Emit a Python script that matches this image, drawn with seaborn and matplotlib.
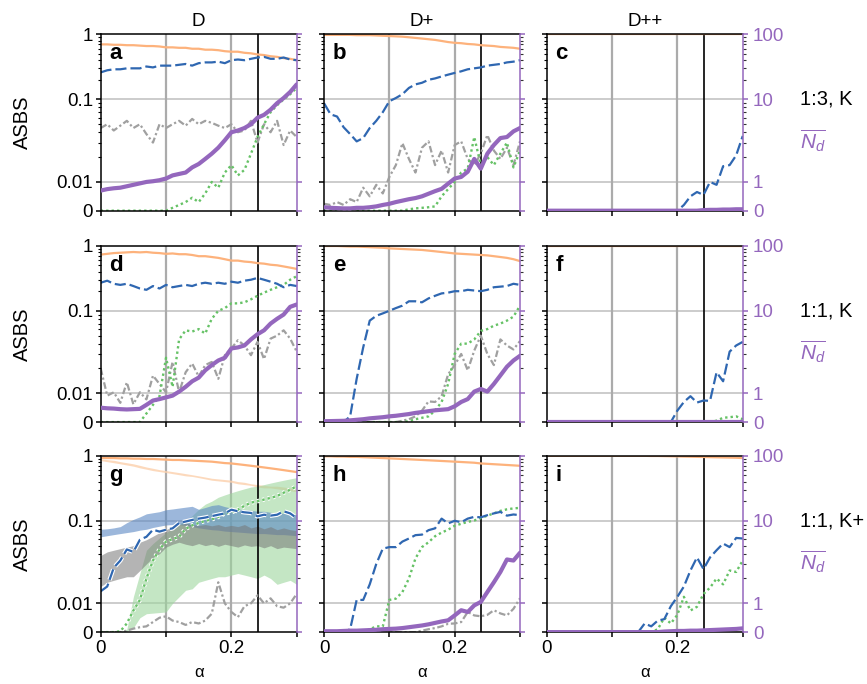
import numpy as np
import matplotlib
matplotlib.use("Agg")
import matplotlib.pyplot as plt
import matplotlib.patheffects as pe
import seaborn as sns

# =====================================================
# DATOS (paso 0.01 en alpha)
# =====================================================

alpha = np.round(np.arange(31) * 0.01, 2)

# --- fila 1: 1:3, K ---
orange_a = [0.70, 0.70, 0.69, 0.69, 0.68, 0.68, 0.67, 0.66, 0.66, 0.65, 0.63, 0.63, 0.62, 0.62, 0.60, 0.60,
            0.58, 0.58, 0.57, 0.55, 0.54, 0.54, 0.52, 0.51, 0.49, 0.48, 0.46, 0.45, 0.43, 0.42, 0.40]
blue_a = [0.26, 0.28, 0.29, 0.29, 0.30, 0.30, 0.30, 0.32, 0.31, 0.33, 0.33, 0.33, 0.34, 0.35, 0.33, 0.36,
          0.37, 0.37, 0.38, 0.36, 0.40, 0.41, 0.40, 0.42, 0.44, 0.45, 0.42, 0.42, 0.44, 0.41, 0.40]
gray_a = [0.045, 0.050, 0.042, 0.048, 0.055, 0.045, 0.050, 0.038, 0.030, 0.050, 0.045, 0.050, 0.055, 0.048,
          0.058, 0.050, 0.055, 0.052, 0.048, 0.045, 0.050, 0.040, 0.042, 0.055, 0.030, 0.050, 0.040, 0.055,
          0.028, 0.042, 0.035]
green_a = [0] * 11 + [0.001, 0.002, 0.003, 0.0045, 0.003, 0.006, 0.010, 0.008, 0.013, 0.016, 0.012, 0.014,
                      0.022, 0.035, 0.050, 0.070, 0.085, 0.100, 0.120, 0.150]
nd_a = [0.70, 0.75, 0.78, 0.80, 0.85, 0.90, 0.95, 1.00, 1.02, 1.05, 1.10, 1.20, 1.25, 1.30, 1.50, 1.65,
        1.90, 2.20, 2.60, 3.20, 4.00, 4.20, 4.50, 5.00, 6.00, 6.50, 7.50, 9.00, 10.5, 13.0, 17.0]

orange_b = [0.98, 0.98, 0.98, 0.98, 0.98, 0.97, 0.97, 0.97, 0.96, 0.95, 0.94, 0.93, 0.92, 0.90, 0.88, 0.86,
            0.84, 0.82, 0.79, 0.76, 0.74, 0.73, 0.71, 0.70, 0.68, 0.67, 0.66, 0.64, 0.63, 0.62, 0.60]
blue_b = [0.090, 0.066, 0.062, 0.046, 0.038, 0.031, 0.034, 0.045, 0.055, 0.070, 0.095, 0.105, 0.120, 0.150,
          0.170, 0.180, 0.200, 0.210, 0.225, 0.240, 0.255, 0.270, 0.290, 0.300, 0.310, 0.330, 0.340, 0.350,
          0.370, 0.380, 0.400]
gray_b = [0.0024, 0.002, 0.003, 0.002, 0.004, 0.003, 0.008, 0.005, 0.009, 0.006, 0.0115, 0.016, 0.0295,
          0.019, 0.013, 0.026, 0.031, 0.016, 0.024, 0.013, 0.028, 0.031, 0.019, 0.016, 0.022, 0.037, 0.024,
          0.019, 0.026, 0.016, 0.031]
green_b = [0] * 13 + [0.0005, 0.0008, 0.001, 0.0012, 0.0015, 0.005, 0.0075, 0.010, 0.013, 0.0145, 0.035,
                      0.016, 0.020, 0.016, 0.022, 0.030, 0.015, 0.024]
nd_b = [0.12, 0.10, 0.09, 0.08, 0.08, 0.10, 0.10, 0.12, 0.15, 0.20, 0.24, 0.30, 0.35, 0.40, 0.44, 0.50,
        0.59, 0.68, 0.76, 0.94, 1.10, 1.15, 1.33, 1.90, 1.45, 2.20, 2.80, 3.40, 3.50, 4.10, 4.50]

orange_c = [0.995] * 31
blue_c = [0] * 21 + [0.002, 0.005, 0.0065, 0.0055, 0.010, 0.009, 0.0155, 0.016, 0.021, 0.036]
nd_c = [0] * 24 + [0.02, 0.03, 0.03, 0.04, 0.04, 0.05, 0.05]

# --- fila 2: 1:1, K ---
orange_d = [0.73, 0.75, 0.77, 0.78, 0.79, 0.80, 0.79, 0.80, 0.78, 0.77, 0.75, 0.76, 0.74, 0.74, 0.72, 0.69,
            0.69, 0.67, 0.65, 0.62, 0.59, 0.59, 0.57, 0.56, 0.54, 0.53, 0.51, 0.50, 0.48, 0.46, 0.44]
blue_d = [0.27, 0.29, 0.26, 0.25, 0.26, 0.24, 0.22, 0.21, 0.24, 0.22, 0.25, 0.23, 0.24, 0.25, 0.24, 0.26,
          0.27, 0.26, 0.27, 0.26, 0.28, 0.27, 0.29, 0.30, 0.32, 0.30, 0.28, 0.26, 0.23, 0.25, 0.24]
gray_d = [0.020, 0.0092, 0.0103, 0.0067, 0.0136, 0.0062, 0.0103, 0.0079, 0.0164, 0.013, 0.0103, 0.024,
          0.0103, 0.018, 0.023, 0.016, 0.022, 0.024, 0.015, 0.029, 0.035, 0.044, 0.038, 0.029, 0.042, 0.026,
          0.046, 0.050, 0.058, 0.046, 0.032]
green_d = [0, 0, 0, 0, 0, 0, 0, 0.003, 0.006, 0.009, 0.027, 0.012, 0.045, 0.058, 0.056, 0.060, 0.053,
           0.080, 0.100, 0.110, 0.130, 0.130, 0.135, 0.150, 0.170, 0.190, 0.210, 0.230, 0.250, 0.300, 0.340]
nd_d = [0.50, 0.48, 0.47, 0.45, 0.44, 0.45, 0.46, 0.60, 0.75, 0.80, 0.86, 0.92, 1.05, 1.20, 1.40, 1.55,
        1.90, 2.20, 2.50, 2.70, 3.50, 3.60, 3.80, 4.50, 5.20, 5.80, 7.00, 8.00, 9.00, 11.5, 12.5]

orange_e = [0.99, 0.99, 0.99, 0.98, 0.97, 0.97, 0.96, 0.95, 0.94, 0.93, 0.91, 0.90, 0.89, 0.88, 0.87, 0.86,
            0.84, 0.82, 0.80, 0.78, 0.76, 0.75, 0.74, 0.73, 0.72, 0.71, 0.69, 0.67, 0.65, 0.62, 0.58]
blue_e = [0, 0, 0, 0, 0.002, 0.015, 0.036, 0.076, 0.087, 0.093, 0.100, 0.110, 0.120, 0.140, 0.140, 0.135,
          0.155, 0.170, 0.185, 0.190, 0.200, 0.200, 0.210, 0.205, 0.200, 0.210, 0.230, 0.235, 0.240, 0.260,
          0.250]
gray_e = [0] * 12 + [0.0005, 0.001, 0.002, 0.004, 0.0072, 0.007, 0.009, 0.017, 0.022, 0.030, 0.019, 0.033,
                     0.050, 0.030, 0.022, 0.045, 0.038, 0.034, 0.043]
green_e = [0] * 13 + [0.0003, 0.001, 0.0015, 0.002, 0.004, 0.007, 0.013, 0.030, 0.040, 0.040, 0.045, 0.057,
                      0.060, 0.066, 0.070, 0.076, 0.085, 0.120]
nd_e = [0.03, 0.035, 0.04, 0.045, 0.06, 0.08, 0.10, 0.13, 0.15, 0.17, 0.20, 0.22, 0.25, 0.28, 0.32, 0.35,
        0.38, 0.41, 0.43, 0.45, 0.55, 0.70, 0.80, 1.05, 1.13, 1.05, 1.30, 1.65, 2.10, 2.50, 2.85]

orange_f = [0.995] * 31
blue_f = [0] * 20 + [0.004, 0.007, 0.009, 0.0068, 0.0075, 0.0074, 0.018, 0.014, 0.032, 0.038, 0.042]
green_f = [0] * 26 + [0.0005, 0.0015, 0.0017, 0.002, 0.001]
nd_f = [0] * 31

# --- fila 3: 1:1, K+ ---
orange_g = [0.92, 0.92, 0.92, 0.91, 0.91, 0.90, 0.90, 0.89, 0.89, 0.88, 0.87, 0.86, 0.86, 0.85, 0.84, 0.83,
            0.82, 0.81, 0.79, 0.77, 0.76, 0.74, 0.72, 0.70, 0.68, 0.66, 0.64, 0.62, 0.60, 0.58, 0.56]
orange_g_hi = [0.89, 0.87, 0.85, 0.81, 0.78, 0.75, 0.71, 0.67, 0.64, 0.61, 0.59, 0.57, 0.55, 0.53, 0.51,
               0.49, 0.47, 0.45, 0.44, 0.43, 0.42, 0.40, 0.39, 0.37, 0.36, 0.35, 0.34, 0.34, 0.33, 0.32, 0.31]
orange_g_lo = [0.84, 0.81, 0.78, 0.75, 0.72, 0.69, 0.65, 0.62, 0.59, 0.57, 0.55, 0.53, 0.51, 0.49, 0.48,
               0.46, 0.44, 0.42, 0.41, 0.40, 0.39, 0.37, 0.36, 0.35, 0.33, 0.32, 0.32, 0.31, 0.30, 0.29, 0.28]
blue_g = [0.014, 0.016, 0.027, 0.033, 0.045, 0.042, 0.059, 0.064, 0.078, 0.074, 0.078, 0.081, 0.094, 0.098,
          0.103, 0.108, 0.112, 0.118, 0.124, 0.130, 0.148, 0.140, 0.135, 0.132, 0.117, 0.124, 0.120, 0.124,
          0.140, 0.130, 0.110]
blue_g_hi = [0.079, 0.080, 0.082, 0.085, 0.095, 0.105, 0.115, 0.128, 0.133, 0.138, 0.148, 0.152, 0.157,
             0.162, 0.167, 0.150, 0.160, 0.172, 0.177, 0.165, 0.157, 0.152, 0.148, 0.145, 0.140, 0.140, 0.135,
             0.132, 0.130, 0.128, 0.124]
blue_g_lo = [0.064, 0.066, 0.068, 0.070, 0.072, 0.074, 0.077, 0.079, 0.083, 0.086, 0.089, 0.090, 0.090,
             0.088, 0.085, 0.082, 0.080, 0.078, 0.077, 0.075, 0.074, 0.073, 0.072, 0.071, 0.070, 0.070, 0.069,
             0.068, 0.068, 0.067, 0.066]
gray_g = [0, 0, 0, 0, 0.0005, 0.0012, 0.0017, 0.002, 0.0035, 0.005, 0.0055, 0.004, 0.0035, 0.0025, 0.0035,
          0.003, 0.004, 0.0064, 0.018, 0.010, 0.007, 0.0052, 0.009, 0.010, 0.0125, 0.010, 0.0115, 0.009,
          0.0085, 0.010, 0.013]
gray_g_hi = [0.038, 0.042, 0.044, 0.046, 0.048, 0.050, 0.055, 0.059, 0.065, 0.072, 0.078, 0.085, 0.090,
             0.094, 0.090, 0.088, 0.090, 0.087, 0.090, 0.085, 0.088, 0.085, 0.090, 0.082, 0.086, 0.080, 0.085,
             0.078, 0.082, 0.078, 0.076]
gray_g_lo = [0.016, 0.018, 0.019, 0.020, 0.021, 0.021, 0.025, 0.030, 0.036, 0.040, 0.048, 0.052, 0.055,
             0.052, 0.050, 0.053, 0.050, 0.052, 0.049, 0.052, 0.050, 0.048, 0.051, 0.049, 0.050, 0.047, 0.050,
             0.046, 0.048, 0.047, 0.046]
green_g = [0, 0, 0, 0.0003, 0.003, 0.0075, 0.011, 0.020, 0.033, 0.045, 0.056, 0.060, 0.064, 0.080, 0.088,
           0.094, 0.100, 0.105, 0.115, 0.130, 0.135, 0.148, 0.170, 0.190, 0.200, 0.212, 0.225, 0.240, 0.270,
           0.300, 0.340]
green_g_hi = [0, 0, 0, 0, 0.001, 0.012, 0.023, 0.044, 0.053, 0.062, 0.072, 0.080, 0.093, 0.100, 0.120,
              0.150, 0.180, 0.200, 0.230, 0.250, 0.270, 0.290, 0.310, 0.330, 0.340, 0.360, 0.380, 0.400, 0.420,
              0.440, 0.460]
green_g_lo = [0, 0, 0, 0, 0.0003, 0.0015, 0.005, 0.0064, 0.0066, 0.0068, 0.007, 0.010, 0.012, 0.0144, 0.015,
              0.018, 0.019, 0.020, 0.021, 0.021, 0.022, 0.023, 0.022, 0.021, 0.020, 0.022, 0.020, 0.017, 0.018,
              0.019, 0.017]

orange_h = [0.98, 0.98, 0.97, 0.97, 0.96, 0.96, 0.95, 0.94, 0.93, 0.92, 0.91, 0.90, 0.89, 0.88, 0.87, 0.86,
            0.85, 0.84, 0.83, 0.82, 0.81, 0.80, 0.79, 0.78, 0.76, 0.75, 0.74, 0.73, 0.72, 0.71, 0.70]
blue_h = [0, 0, 0, 0, 0.001, 0.011, 0.011, 0.017, 0.030, 0.046, 0.048, 0.048, 0.056, 0.061, 0.067, 0.068,
          0.077, 0.081, 0.108, 0.093, 0.100, 0.096, 0.108, 0.115, 0.113, 0.122, 0.130, 0.137, 0.120, 0.125,
          0.122]
gray_h = [0] * 15 + [0.0005, 0.001, 0.0014, 0.002, 0.0029, 0.003, 0.0035, 0.007, 0.0058, 0.0055, 0.006,
                     0.0076, 0.0065, 0.0058, 0.0081, 0.0115]
green_h = [0, 0, 0, 0, 0, 0, 0, 0.001, 0.002, 0.002, 0.011, 0.0114, 0.0137, 0.020, 0.035, 0.048, 0.055,
           0.065, 0.072, 0.078, 0.087, 0.092, 0.097, 0.101, 0.110, 0.120, 0.130, 0.142, 0.150, 0.155, 0.158]
nd_h = [0.03, 0.03, 0.03, 0.04, 0.05, 0.05, 0.06, 0.07, 0.08, 0.10, 0.11, 0.12, 0.14, 0.17, 0.20, 0.23,
        0.27, 0.32, 0.37, 0.41, 0.58, 0.76, 0.70, 0.93, 1.04, 1.37, 1.80, 2.40, 3.40, 3.30, 4.10]

orange_i = [0.995] * 16 + [0.99, 0.99, 0.985, 0.98, 0.975, 0.97, 0.965, 0.96, 0.955, 0.95, 0.945, 0.94,
                           0.935, 0.93, 0.92]
blue_i = [0] * 15 + [0.003, 0.002, 0.004, 0.0045, 0.009, 0.012, 0.016, 0.025, 0.036, 0.026, 0.036, 0.044,
                     0.053, 0.048, 0.062, 0.061]
green_i = [0] * 17 + [0.001, 0.005, 0.003, 0.006, 0.012, 0.0075, 0.0088, 0.013, 0.0155, 0.020, 0.017,
                      0.025, 0.024, 0.033]
nd_i = [0] * 18 + [0.02, 0.03, 0.04, 0.04, 0.05, 0.05, 0.06, 0.07, 0.08, 0.09, 0.10, 0.11, 0.13]

col_titles = ["D", "D+", "D++"]
row_labels = ["1:3, K", "1:1, K", "1:1, K+"]
letters = ["a", "b", "c", "d", "e", "f", "g", "h", "i"]

# =====================================================
# ESTILO
# =====================================================

sns.set_style("ticks")
plt.rcParams["font.family"] = ["Liberation Sans", "DejaVu Sans"]
plt.rcParams["mathtext.fontset"] = "custom"
plt.rcParams["mathtext.rm"] = "Liberation Sans"
plt.rcParams["mathtext.it"] = "Liberation Sans:italic"
plt.rcParams["text.color"] = "black"
plt.rcParams["axes.labelcolor"] = "black"
plt.rcParams["xtick.color"] = "black"
plt.rcParams["ytick.color"] = "black"

C_ORANGE = "#fdb27c"
C_BLUE = "#2f67b1"
C_GRAY = "#a0a0a0"
C_GREEN = "#66c266"
C_PURPLE = "#9467bd"

# escala del eje y: 0..0.01 lineal, luego decadas log de distinto ancho
U_ANCH = [-4, -3, -2, -1, 0, 1]
P_ANCH = [-0.163, 0.0, 0.163, 0.631, 1.0, 1.369]


def fwd(y):
    y = np.asarray(y, dtype=float)
    u = np.where(y < 0.01, -3 + y / 0.01, np.log10(np.maximum(y, 0.01)))
    return np.interp(u, U_ANCH, P_ANCH)


def inv(p):
    p = np.asarray(p, dtype=float)
    u = np.interp(p, P_ANCH, U_ANCH)
    return np.where(u < -2, (u + 3) * 0.01, 10.0 ** u)


def fwd_nd(y):
    return fwd(np.asarray(y, dtype=float) / 100)


def inv_nd(p):
    return inv(p) * 100


minor_left = [k * 10.0 ** d for d in (-2, -1) for k in range(2, 10)]
minor_right = [m * 100 for m in minor_left]

panels = [
    dict(orange=orange_a, blue=blue_a, gray=gray_a, green=green_a, nd=nd_a),
    dict(orange=orange_b, blue=blue_b, gray=gray_b, green=green_b, nd=nd_b),
    dict(orange=orange_c, blue=blue_c, nd=nd_c),
    dict(orange=orange_d, blue=blue_d, gray=gray_d, green=green_d, nd=nd_d),
    dict(orange=orange_e, blue=blue_e, gray=gray_e, green=green_e, nd=nd_e),
    dict(orange=orange_f, blue=blue_f, green=green_f, nd=nd_f),
    dict(orange=orange_g, blue=blue_g, gray=gray_g, green=green_g, bands=True),
    dict(orange=orange_h, blue=blue_h, gray=gray_h, green=green_h, nd=nd_h),
    dict(orange=orange_i, blue=blue_i, green=green_i, nd=nd_i),
]

# =====================================================
# FIGURA
# =====================================================

W, H = 867, 684
fig = plt.figure(figsize=(W / 100, H / 100), dpi=100)

lefts = [100.7, 324.0, 546.7]
tops = [34.3, 245.7, 455.7]
aw, ah = 196.0, 176.4

for r in range(3):
    for c in range(3):
        p = panels[r * 3 + c]
        ax = fig.add_axes([lefts[c] / W, 1 - (tops[r] + ah) / H, aw / W, ah / H])
        ax.set_yscale("function", functions=(fwd, inv))
        ax2 = ax.twinx()
        ax2.set_yscale("function", functions=(fwd_nd, inv_nd))

        # rejilla
        for yv in (0.01, 0.1):
            ax.axhline(yv, color="#c8c8c8", lw=1.3, zorder=0.5)
        for xv in (0.1, 0.2):
            ax.axvline(xv, color="#ababab", lw=1.6, zorder=0.5)
        ax.axvline(0.24, color="black", lw=1.2, zorder=1.5)

        halo = []
        if p.get("bands"):
            ax.fill_between(alpha, orange_g_lo, orange_g_hi, color="#fcd0ac", alpha=0.8, lw=0, zorder=1)
            ax.fill_between(alpha, green_g_lo, green_g_hi, color="#9dd69d", alpha=0.6, lw=0, zorder=1)
            ax.fill_between(alpha, blue_g_lo, blue_g_hi, color="#5a88c4", alpha=0.6, lw=0, zorder=1)
            ax.fill_between(alpha, gray_g_lo, gray_g_hi, color="#777777", alpha=0.55, lw=0, zorder=1)
            halo = [pe.Stroke(linewidth=3.2, foreground="white"), pe.Normal()]

        sns.lineplot(x=alpha, y=p["orange"], ax=ax, color=C_ORANGE, lw=1.6, errorbar=None)
        if "gray" in p:
            sns.lineplot(x=alpha, y=p["gray"], ax=ax, color=C_GRAY, lw=1.6,
                         linestyle=(0, (3, 1.2, 1, 1.2)), errorbar=None)
        if "green" in p:
            sns.lineplot(x=alpha, y=p["green"], ax=ax, color=C_GREEN, lw=1.7,
                         linestyle=(0, (1, 1.3)), errorbar=None, path_effects=halo or None)
        sns.lineplot(x=alpha, y=p["blue"], ax=ax, color=C_BLUE, lw=1.6,
                     linestyle=(0, (5, 1.8)), errorbar=None, path_effects=halo or None)
        if "nd" in p:
            sns.lineplot(x=alpha, y=p["nd"], ax=ax2, color=C_PURPLE, lw=3.0, errorbar=None)

        ax.set_xlim(0, 0.3)
        ax.set_ylim(0, 1)
        ax2.set_ylim(0, 100)
        ax.set_xlabel("")
        ax.set_ylabel("")
        ax2.set_ylabel("")

        # ejes y ticks
        ax.set_xticks([0, 0.1, 0.2, 0.3])
        ax.set_yticks([0, 0.01, 0.1, 1])
        ax.set_yticks(minor_left, minor=True)
        ax.set_yticklabels(["0", "0.01", "0.1", "1"])
        ax2.set_yticks([0, 1, 10, 100])
        ax2.set_yticks(minor_right, minor=True)
        ax2.set_yticklabels(["0", "1", "10", "100"])
        if r == 2:
            ax.set_xticklabels(["0", "", "0.2", ""])
            ax.set_xlabel("α", fontsize=12, labelpad=6)
        else:
            ax.set_xticklabels([])

        ax.tick_params(which="major", direction="out", length=3.5, width=1.1, labelsize=13.5,
                       color="black", labelcolor="black", pad=2, labelleft=(c == 0))
        ax.tick_params(which="minor", direction="out", length=2.0, width=0.8, color="black")
        ax2.tick_params(axis="y", which="major", direction="out", length=3.5, width=1.1,
                        labelsize=13.5, color=C_PURPLE, labelcolor=C_PURPLE, pad=4,
                        labelright=(c == 2))
        ax2.tick_params(axis="y", which="minor", direction="out", length=2.0, width=0.8, color="#333333")

        for s in ("left", "top", "bottom"):
            ax.spines[s].set_linewidth(1.1)
            ax.spines[s].set_color("black")
            ax2.spines[s].set_visible(False)
        ax.spines["right"].set_visible(False)
        ax2.spines["right"].set_color(C_PURPLE)
        ax2.spines["right"].set_linewidth(1.1)

        ax2.text(0.045, 0.89, letters[r * 3 + c], transform=ax.transAxes, fontsize=16,
                 fontweight="bold", va="center", ha="left", color="black", zorder=10)

        if r == 0:
            ax.set_title(col_titles[c], fontsize=13.5, pad=6, color="black")

    # etiquetas de fila
    yc = 1 - (tops[r] + ah / 2) / H
    fig.text(22 / W, yc, "ASBS", rotation=90, va="center", ha="center", fontsize=14.5)
    y10 = tops[r] + ah * (1 - 0.631)
    fig.text(800 / W, 1 - y10 / H, row_labels[r], va="center", ha="left", fontsize=14.5)
    fig.text(800 / W, 1 - (y10 + 41) / H, r"$\overline{N_d}$", va="center", ha="left",
             fontsize=15, color=C_PURPLE)

fig.savefig("out.png", dpi=100)
